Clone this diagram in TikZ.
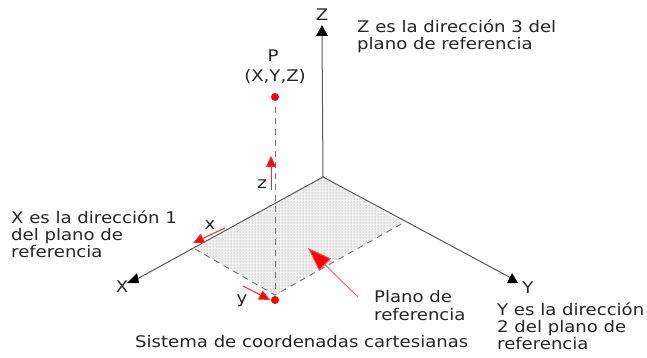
\documentclass[tikz,border=0pt]{standalone}
\usepackage{fontspec}
\setmainfont[FakeStretch=1.13]{DejaVu Sans}
\usetikzlibrary{patterns,arrows.meta}
\tikzset{
  txt/.style={inner sep=0pt, anchor=base west, text=black!85, font=\fontsize{16}{17}\selectfont},
  ctxt/.style={inner sep=0pt, anchor=base, text=black!85, font=\fontsize{16}{17}\selectfont},
  axisline/.style={draw=black!65, line width=1pt},
  axhead/.style={fill=black},
  redarr/.style={draw=red!85, line width=1pt, -{Triangle[length=11pt,width=10pt,fill=red]}},
  bigarr/.style={draw=red!65, line width=0.9pt, -{Triangle[length=24pt,width=17pt,fill=red]}},
  dsh/.style={draw=black!55, dash pattern=on 6pt off 5pt, line width=0.9pt},
  reddot/.style={circle, fill=red, inner sep=0pt, minimum size=8pt}
}
\begin{document}
\begin{tikzpicture}[x=1pt,y=-1pt]
\useasboundingbox (0,0) rectangle (647,358);
\fill[white] (0,0) rectangle (647,358);
% key points
\coordinate (O) at (323,177);
\coordinate (A) at (195,249);
\coordinate (B) at (403,223);
\coordinate (C) at (275,295);
\coordinate (Xe) at (137,279);
\coordinate (Ye) at (513,279);
\coordinate (Ze) at (322,34);
% plane
\fill[black!6] (O) -- (A) -- (C) -- (B) -- cycle;
\fill[pattern=dots, pattern color=black!40] (O) -- (A) -- (C) -- (B) -- cycle;
\draw[dsh] (A) -- (C) -- (B);
% axes
\draw[axisline] (O) -- (Xe);
\draw[axisline] (O) -- (Ye);
\draw[axisline] (O) -- (Ze);
\fill[axhead] (127,283) -- (137,273) -- (139,283) -- cycle;
\fill[axhead] (507,283) -- (512,273) -- (518,283) -- cycle;
\fill[axhead] (322,25) -- (316,36) -- (328,36) -- cycle;
\node[ctxt] (zl) at (322,21) {Z};
\node[ctxt] (xl) at (122,292) {X};
\node[ctxt] (yl) at (528,293) {Y};
% point P
\node[reddot] (P) at (275,97) {};
\draw[dsh] (P.south) ++(0,6) coordinate (Ptop) -- (C);
\node[ctxt] (pl) at (273,62) {P};
\node[ctxt] (pxyz) at (275,82) {(X,Y,Z)};
\node[reddot] (Cd) at (275,300) {};
% small red arrows
\coordinate (zs) at (271,190);
\coordinate (zt) at (271,156);
\draw[redarr] (zs) -- (zt);
\node[ctxt] (zlab) at (262,188) {z};
\coordinate (xs) at (225,228);
\coordinate (xt) at (193,243);
\draw[redarr] (xs) -- (xt);
\node[ctxt] (xlab) at (210,229) {x};
\coordinate (ys) at (243,286);
\coordinate (yt) at (270,300);
\draw[redarr] (ys) -- (yt);
\node[ctxt] (ylab) at (242,303) {y};
% big arrow
\coordinate (bs) at (358,297);
\coordinate (bt) at (308,248);
\draw[bigarr] (bs) -- (bt);
% texts
\node[txt] (t1) at (357,33) {Z es la dirección 3 del};
\node[txt] (t2) at (357,50) {plano de referencia};
\node[txt] (t3) at (11,223) {X es la dirección 1};
\node[txt] (t4) at (11,240) {del plano de};
\node[txt] (t5) at (11,257) {referencia};
\node[txt] (t6) at (374,302) {Plano de};
\node[txt] (t7) at (374,320) {referencia};
\node[txt] (t8) at (135,347) {Sistema de coordenadas cartesianas};
\node[txt] (t9) at (497,315) {Y es la dirección};
\node[txt] (t10) at (497,332) {2 del plano de};
\node[txt] (t11) at (497,349) {referencia};
\end{tikzpicture}
\end{document}
